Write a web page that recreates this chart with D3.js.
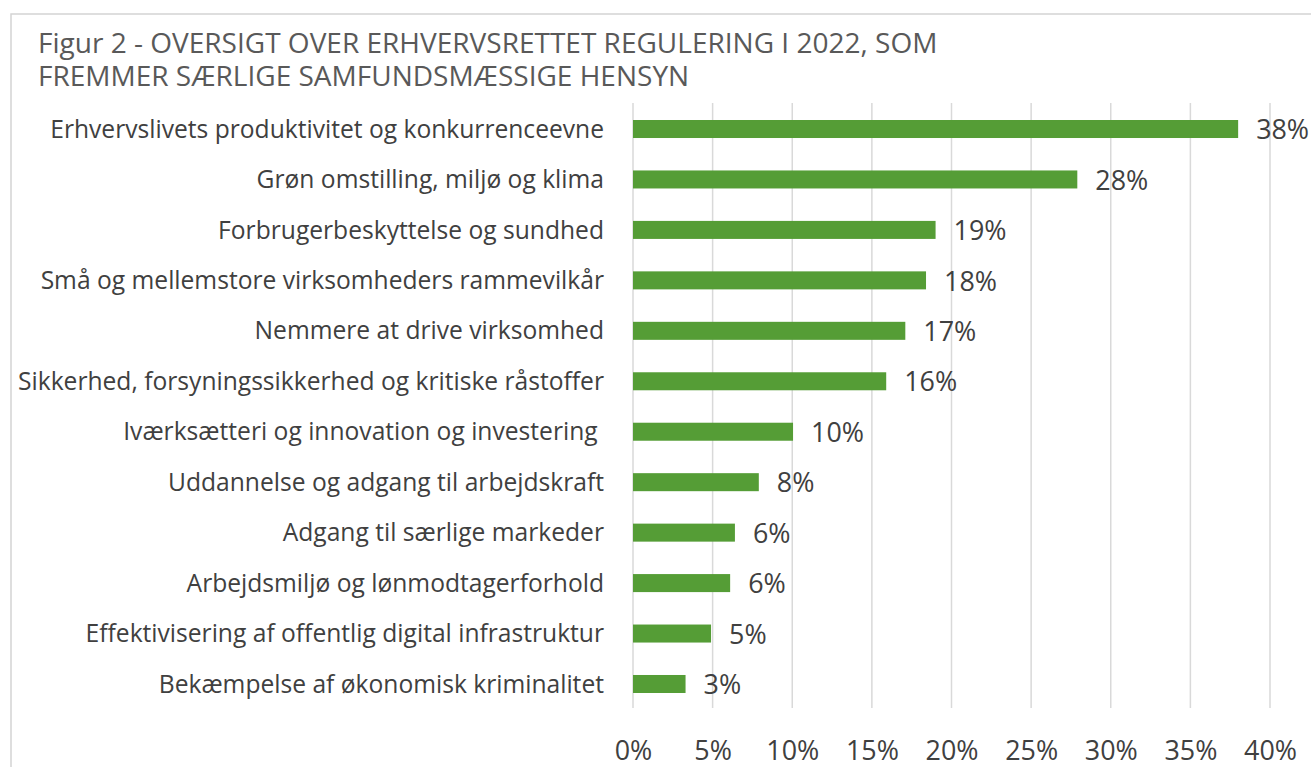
<!DOCTYPE html>
<html><head><meta charset="utf-8">
<script src="https://cdn.jsdelivr.net/npm/d3@7"></script>
<style>body{margin:0;background:#fff;}svg{display:block;}text{font-family:"Open Sans",sans-serif;}</style>
</head><body>
<svg id="c" width="1311" height="767"></svg>
<script>
const titleLines = ["Figur 2 - OVERSIGT OVER ERHVERVSRETTET REGULERING I 2022, SOM", "FREMMER SÆRLIGE SAMFUNDSMÆSSIGE HENSYN"];
const categories = [
  "Erhvervslivets produktivitet og konkurrenceevne",
  "Grøn omstilling, miljø og klima",
  "Forbrugerbeskyttelse og sundhed",
  "Små og mellemstore virksomheders rammevilkår",
  "Nemmere at drive virksomhed",
  "Sikkerhed, forsyningssikkerhed og kritiske råstoffer",
  "Iværksætteri og innovation og investering ",
  "Uddannelse og adgang til arbejdskraft",
  "Adgang til særlige markeder",
  "Arbejdsmiljø og lønmodtagerforhold",
  "Effektivisering af offentlig digital infrastruktur",
  "Bekæmpelse af økonomisk kriminalitet"
];
const values = [38, 27.9, 19, 18.4, 17.1, 15.9, 10.05, 7.9, 6.4, 6.1, 4.9, 3.3];
const valueLabels = ["38%","28%","19%","18%","17%","16%","10%","8%","6%","6%","5%","3%"];
const tickValues = [0,5,10,15,20,25,30,35,40];

const svg = d3.select("#c");
const textColor = "#404040";

function fitSize(str, target, base) {
  const t = svg.append("text").attr("font-size", base).text(str);
  const w = t.node().getComputedTextLength();
  t.remove();
  return base * target / w;
}

svg.append("rect").attr("x", 11).attr("y", 14).attr("width", 1400).attr("height", 800)
  .attr("fill", "none").attr("stroke", "#d4d4d4").attr("stroke-width", 1.5);

const titleSize = fitSize(titleLines[0], 900, 24);
const title = svg.append("text").attr("x", 38).attr("y", 53)
  .attr("font-size", titleSize).attr("fill", "#595959");
title.selectAll("tspan").data(titleLines).join("tspan")
  .attr("x", 38).attr("dy", (d,i) => i === 0 ? 0 : 33).text(d => d);

const x = d3.scaleLinear().domain([0, 40]).range([633, 1270]);
const y = d3.scaleBand().domain(categories).range([103, 710]).paddingInner(0.643).paddingOuter(0.337);

svg.append("g").selectAll("line").data(tickValues).join("line")
  .attr("x1", d => x(d)).attr("x2", d => x(d)).attr("y1", 103).attr("y2", 708)
  .attr("stroke", "#d9d9d9").attr("stroke-width", 1.5);

svg.append("g").selectAll("rect").data(values).join("rect")
  .attr("x", x(0)).attr("y", (d,i) => y(categories[i]))
  .attr("width", d => x(d) - x(0)).attr("height", y.bandwidth())
  .attr("fill", "#559d36");

const labelSize = fitSize(categories[5], 586, 22);
svg.append("g").selectAll("text").data(categories).join("text")
  .attr("x", 604).attr("y", d => y(d) + y.bandwidth()/2)
  .attr("dy", "0.35em").attr("text-anchor", "end")
  .attr("font-size", labelSize).attr("fill", textColor)
  .style("white-space","pre").text(d => d);

const valSize = fitSize("38%", 53, 22);
svg.append("g").selectAll("text").data(values).join("text")
  .attr("x", d => x(d) + 18).attr("y", (d,i) => y(categories[i]) + y.bandwidth()/2)
  .attr("dy", "0.38em").attr("font-size", valSize).attr("fill", textColor)
  .text((d,i) => valueLabels[i]);

const axis = d3.axisBottom(x).tickValues(tickValues).tickFormat(d => d + "%").tickSize(0).tickPadding(0);
const ag = svg.append("g").attr("transform", "translate(0,741)").call(axis);
ag.select(".domain").remove();
ag.selectAll("text").attr("font-size", valSize).attr("fill", textColor).attr("font-family", "Open Sans");
</script>
</body></html>
